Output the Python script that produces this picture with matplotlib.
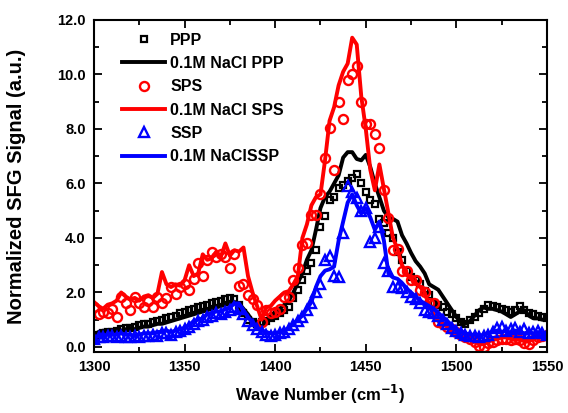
import numpy as np
import matplotlib
matplotlib.use("Agg")
import matplotlib.pyplot as plt
from matplotlib.ticker import MultipleLocator, FormatStrFormatter

# wave number grid (cm-1)
wn = np.arange(1300, 1550.1, 2.5)

ppp = [0.35, 0.45, 0.5, 0.55, 0.55, 0.6, 0.65, 0.7, 0.7, 0.75,
       0.8, 0.85, 0.85, 0.9, 0.95, 1.0, 1.05, 1.1, 1.15, 1.25,
       1.3, 1.35, 1.4, 1.45, 1.5, 1.55, 1.6, 1.65, 1.7, 1.75,
       1.8, 1.75, 1.55, 1.25, 1.0, 0.9, 0.85, 0.9, 0.95, 1.05,
       1.15, 1.25, 1.35, 1.45, 1.8, 2.1, 2.45, 2.8, 3.1, 3.55,
       4.4, 4.8, 5.4, 5.5, 5.85, 5.95, 6.1, 6.2, 6.35, 6.0,
       5.7, 5.4, 5.25, 4.7, 4.55, 4.2, 4.0, 3.5, 3.2, 2.8,
       2.55, 2.45, 2.3, 2.05, 1.9, 1.6, 1.55, 1.45, 1.3, 1.2,
       1.05, 0.9, 0.85, 1.0, 1.1, 1.25, 1.4, 1.55, 1.5, 1.45,
       1.4, 1.35, 1.3, 1.35, 1.5, 1.35, 1.25, 1.2, 1.15, 1.1, 1.05]

nacl_ppp = [0.45, 0.55, 0.6, 0.55, 0.6, 0.65, 0.6, 0.65, 0.7, 0.65,
            0.7, 0.75, 0.75, 0.8, 0.85, 0.85, 0.9, 0.95, 1.0, 1.05,
            1.1, 1.15, 1.2, 1.25, 1.3, 1.35, 1.4, 1.45, 1.5, 1.55,
            1.6, 1.65, 1.6, 1.4, 1.2, 0.95, 0.8, 0.75, 0.85, 1.1,
            1.3, 1.4, 1.55, 1.7, 2.0, 2.35, 2.7, 3.2, 3.55, 4.3,
            5.1, 5.5, 5.7, 6.0, 6.3, 6.95, 7.15, 7.15, 6.9, 6.85,
            7.05, 6.6, 6.0, 5.5, 5.0, 4.75, 4.7, 4.6, 4.1, 3.8,
            3.45, 3.15, 2.95, 2.7, 2.3, 2.2, 2.1, 1.85, 1.6, 1.35,
            1.1, 0.9, 0.85, 0.95, 1.15, 1.35, 1.45, 1.4, 1.4, 1.35,
            1.3, 1.2, 1.1, 1.2, 1.3, 1.35, 1.15, 1.05, 1.05, 1.0, 1.0]

sps = [1.45, 1.2, 1.3, 1.25, 1.4, 1.1, 1.85, 1.6, 1.35, 1.85,
       1.6, 1.45, 1.7, 1.45, 1.85, 1.6, 1.8, 2.2, 1.95, 2.2,
       2.3, 2.1, 2.5, 3.1, 2.6, 3.2, 3.5, 3.3, 3.4, 3.3,
       2.9, 3.4, 2.25, 2.3, 1.9, 1.75, 1.55, 0.9, 1.35, 1.25,
       1.3, 1.4, 1.85, 1.85, 2.45, 2.9, 3.75, 3.8, 4.85, 4.85,
       5.6, 6.95, 8.05, 6.5, 9.0, 8.35, 9.8, 10.0, 10.3, 9.0,
       8.2, 8.2, 7.8, 7.3, 5.75, 4.75, 3.55, 3.6, 2.8, 2.8,
       2.45, 2.45, 2.1, 2.0, 1.6, 1.6, 0.9, 0.85, 0.75, 0.65,
       0.55, 0.45, 0.35, 0.3, 0.2, 0.05, 0.0, 0.15, 0.2, 0.25,
       0.3, 0.3, 0.25, 0.3, 0.25, 0.15, 0.1, 0.25, 0.35, 0.4, 0.45]

nacl_sps = [1.65, 1.5, 1.4, 1.55, 1.6, 1.7, 2.0, 1.85, 1.75, 1.8,
            1.7, 1.85, 1.9, 1.8, 1.95, 2.75, 2.3, 2.2, 2.3, 2.25,
            2.45, 3.0, 2.6, 2.7, 3.4, 3.2, 3.25, 3.5, 3.3, 3.8,
            3.35, 3.55, 3.5, 3.65, 2.6, 2.0, 1.5, 1.0, 1.45, 1.5,
            1.7, 1.85, 2.0, 2.05, 2.3, 2.6, 4.0, 4.5, 5.2, 5.5,
            5.6, 6.85, 8.3, 8.8, 9.6, 10.1, 10.4, 11.35, 11.1, 9.2,
            8.0, 6.5, 5.75, 6.7, 5.8, 4.9, 4.0, 3.6, 3.0, 2.7,
            2.5, 2.35, 2.2, 2.0, 1.5, 1.2, 0.95, 0.85, 0.75, 0.6,
            0.5, 0.4, 0.3, 0.25, 0.2, 0.12, 0.1, 0.2, 0.25, 0.3,
            0.35, 0.35, 0.3, 0.25, 0.3, 0.2, 0.2, 0.3, 0.35, 0.4, 0.35]

ssp = [0.3, 0.35, 0.35, 0.4, 0.4, 0.35, 0.4, 0.35, 0.35, 0.4,
       0.35, 0.4, 0.4, 0.45, 0.4, 0.5, 0.5, 0.45, 0.55, 0.6,
       0.65, 0.75, 0.85, 0.95, 1.0, 1.1, 1.15, 1.25, 1.2, 1.3,
       1.35, 1.45, 1.4, 1.2, 0.95, 0.8, 0.65, 0.55, 0.45, 0.4,
       0.45, 0.5, 0.55, 0.65, 0.8, 0.95, 1.1, 1.35, 1.6, 2.0,
       2.3, 3.2, 3.35, 2.6, 2.55, 4.2, 5.9, 5.7, 5.45, 5.0,
       5.1, 3.85, 4.0, 4.4, 3.1, 2.8, 2.2, 2.2, 2.15, 2.0,
       1.85, 1.75, 1.6, 1.35, 1.3, 1.25, 1.15, 1.0, 0.85, 0.7,
       0.6, 0.5, 0.45, 0.4, 0.4, 0.35, 0.4, 0.45, 0.55, 0.7,
       0.75, 0.6, 0.65, 0.7, 0.55, 0.65, 0.5, 0.55, 0.6, 0.5, 0.45]

nacl_ssp = [0.35, 0.4, 0.4, 0.45, 0.45, 0.45, 0.5, 0.45, 0.45, 0.4,
            0.45, 0.5, 0.5, 0.5, 0.55, 0.55, 0.6, 0.55, 0.6, 0.65,
            0.7, 0.8, 0.95, 1.0, 1.05, 1.2, 1.25, 1.3, 1.3, 1.4,
            1.45, 1.6, 1.6, 1.35, 1.1, 0.9, 0.7, 0.6, 0.55, 0.5,
            0.5, 0.55, 0.6, 0.7, 0.85, 1.0, 1.15, 1.4, 1.65, 2.2,
            2.6, 2.8, 2.85, 2.95, 3.9, 4.6, 5.3, 5.6, 5.2, 4.9,
            5.1, 4.75, 4.3, 4.6, 3.9, 2.7, 2.55, 2.5, 2.35, 2.15,
            2.0, 1.85, 1.7, 1.6, 1.5, 1.4, 1.25, 1.1, 0.95, 0.8,
            0.65, 0.55, 0.5, 0.45, 0.45, 0.4, 0.45, 0.5, 0.55, 0.6,
            0.55, 0.6, 0.5, 0.6, 0.55, 0.5, 0.55, 0.5, 0.55, 0.5, 0.5]


def main():
    plt.rcParams['font.family'] = ['Liberation Sans', 'DejaVu Sans']
    plt.rcParams['font.weight'] = 'bold'

    fig = plt.figure(figsize=(5.68, 4.13), dpi=100)
    ax = fig.add_axes([0.1655, 0.148, 0.7975, 0.8036])

    ax.plot(wn, ppp, ls='none', marker='s', ms=5, mfc='none', mec='black', mew=1.6, label='PPP')
    ax.plot(wn, nacl_ppp, color='black', lw=2.8, label='0.1M NaCl PPP')
    ax.plot(wn, sps, ls='none', marker='o', ms=6.5, mfc='none', mec='red', mew=1.7, label='SPS')
    ax.plot(wn, nacl_sps, color='red', lw=2.8, label='0.1M NaCl SPS')
    ax.plot(wn, ssp, ls='none', marker='^', ms=6.5, mfc='none', mec='blue', mew=1.7, label='SSP')
    ax.plot(wn, nacl_ssp, color='blue', lw=2.8, label='0.1M NaClSSP')

    ax.set_xlim(1300, 1550)
    ax.set_ylim(-0.18, 12.0)
    ax.xaxis.set_major_locator(MultipleLocator(50))
    ax.xaxis.set_minor_locator(MultipleLocator(25))
    ax.yaxis.set_major_locator(MultipleLocator(2))
    ax.yaxis.set_minor_locator(MultipleLocator(1))
    ax.yaxis.set_major_formatter(FormatStrFormatter('%.1f'))

    ax.tick_params(which='both', direction='in', top=True, right=True, width=1.3,
                   labelsize=10.5, pad=6)
    ax.tick_params(which='major', length=6)
    ax.tick_params(which='minor', length=3.5)
    for sp in ax.spines.values():
        sp.set_linewidth(1.5)
    for lab in ax.get_xticklabels() + ax.get_yticklabels():
        lab.set_fontweight('bold')

    ax.set_xlabel('Wave Number (cm$^{\\mathbf{-1}}$)', fontsize=12, fontweight='bold', labelpad=6)
    ax.set_ylabel('Normalized SFG Signal (a.u.)', fontsize=14.5, fontweight='bold', labelpad=22)

    ax.legend(loc='upper left', frameon=False, handlelength=2.7,
              labelspacing=0.52, handletextpad=0.3, borderaxespad=0.4,
              bbox_to_anchor=(0.034, 1.0), prop={'weight': 'bold', 'size': 11.5})

    fig.savefig('out.png', dpi=100)


if __name__ == '__main__':
    main()
